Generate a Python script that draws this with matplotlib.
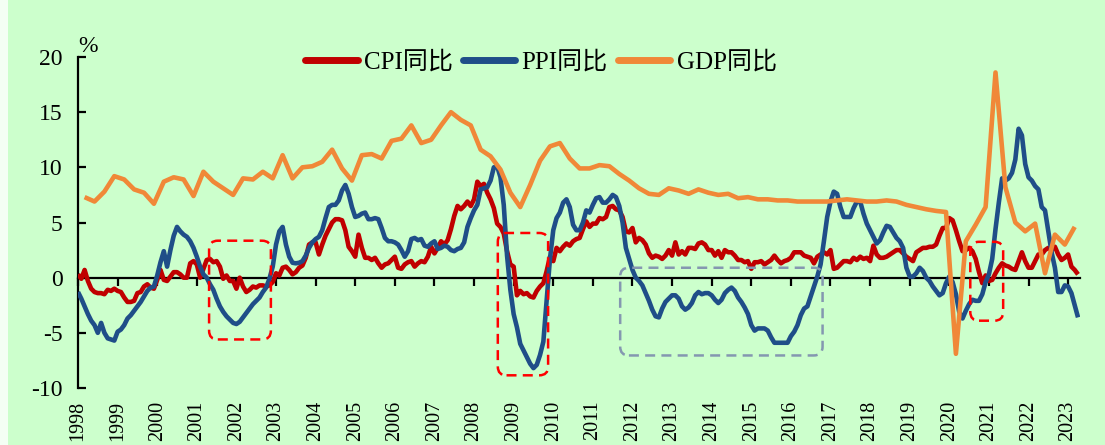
import numpy as np
import matplotlib
matplotlib.use("Agg")
import matplotlib.pyplot as plt
from matplotlib.patches import FancyBboxPatch, Rectangle

# ---------------- data ----------------
years = list(range(1998, 2024))
year_labels = [str(y) for y in years]

# CPI YoY, monthly from 1998-01 to 2023-04
cpi = [
    0.3, -0.1, 0.7, -0.3, -1.0, -1.3, -1.4, -1.4, -1.5, -1.1, -1.2, -1.0,   # 1998
    -1.2, -1.3, -1.8, -2.2, -2.2, -2.1, -1.4, -1.3, -0.8, -0.6, -0.9, -1.0,  # 1999
    -0.2, 0.7, -0.2, -0.3, 0.1, 0.5, 0.5, 0.3, 0.0, 0.0, 1.3, 1.5,           # 2000
    1.2, 0.0, 0.8, 1.6, 1.7, 1.4, 1.5, 1.0, -0.1, 0.2, -0.3, -0.3,           # 2001
    -1.0, 0.0, -0.8, -1.3, -1.1, -0.8, -0.9, -0.7, -0.7, -0.8, -0.7, -0.4,   # 2002
    0.4, 0.2, 0.9, 1.0, 0.7, 0.3, 0.5, 0.9, 1.1, 1.8, 3.0, 3.2,              # 2003
    3.2, 2.1, 3.0, 3.8, 4.4, 5.0, 5.3, 5.3, 5.2, 4.3, 2.8, 2.4,              # 2004
    1.9, 3.9, 2.7, 1.8, 1.8, 1.6, 1.8, 1.3, 0.9, 1.2, 1.3, 1.6,              # 2005
    1.9, 0.9, 0.8, 1.2, 1.4, 1.5, 1.0, 1.3, 1.5, 1.4, 1.9, 2.8,              # 2006
    2.2, 2.7, 3.3, 3.0, 3.4, 4.4, 5.6, 6.5, 6.2, 6.5, 6.9, 6.5,              # 2007
    7.1, 8.7, 8.3, 8.5, 7.7, 7.1, 6.3, 4.9, 4.6, 4.0, 2.4, 1.2,              # 2008
    1.0, -1.6, -1.2, -1.5, -1.4, -1.7, -1.8, -1.2, -0.8, -0.5, 0.6, 1.9,     # 2009
    1.5, 2.7, 2.4, 2.8, 3.1, 2.9, 3.3, 3.5, 3.6, 4.4, 5.1, 4.6,              # 2010
    4.9, 4.9, 5.4, 5.3, 5.5, 6.4, 6.5, 6.2, 6.1, 5.5, 4.2, 4.1,              # 2011
    4.5, 3.2, 3.6, 3.4, 3.0, 2.2, 1.8, 2.0, 1.9, 1.7, 2.0, 2.5,              # 2012
    2.0, 3.2, 2.1, 2.4, 2.1, 2.7, 2.7, 2.6, 3.1, 3.2, 3.0, 2.5,              # 2013
    2.5, 2.0, 2.4, 1.8, 2.5, 2.3, 2.3, 2.0, 1.6, 1.6, 1.4, 1.5,              # 2014
    0.8, 1.4, 1.4, 1.5, 1.2, 1.4, 1.6, 2.0, 1.6, 1.3, 1.5, 1.6,              # 2015
    1.8, 2.3, 2.3, 2.3, 2.0, 1.9, 1.8, 1.3, 1.9, 2.1, 2.3, 2.1,              # 2016
    2.5, 0.8, 0.9, 1.2, 1.5, 1.5, 1.4, 1.8, 1.6, 1.9, 1.7, 1.8,              # 2017
    1.5, 2.9, 2.1, 1.8, 1.8, 1.9, 2.1, 2.3, 2.5, 2.5, 2.2, 1.9,              # 2018
    1.7, 1.5, 2.3, 2.5, 2.7, 2.7, 2.8, 2.8, 3.0, 3.8, 4.5, 4.5,              # 2019
    5.4, 5.2, 4.3, 3.3, 2.4, 2.5, 2.7, 2.4, 1.7, 0.5, -0.5, 0.2,             # 2020
    -0.3, -0.2, 0.4, 0.9, 1.3, 1.1, 1.0, 0.8, 0.7, 1.5, 2.3, 1.5,            # 2021
    0.9, 0.9, 1.5, 2.1, 2.1, 2.5, 2.7, 2.5, 2.8, 2.1, 1.6, 1.8,              # 2022
    2.1, 1.0, 0.7, 0.3,                                                      # 2023
]

# PPI YoY, monthly from 1998-01 to 2023-04
ppi = [
    -1.3, -1.9, -2.6, -3.3, -3.9, -4.3, -5.0, -4.1, -5.0, -5.5, -5.6, -5.7,  # 1998
    -4.9, -4.7, -4.3, -3.7, -3.4, -3.0, -2.6, -2.2, -1.7, -1.2, -0.9, -0.8,  # 1999
    0.2, 1.4, 2.4, 1.0, 2.5, 3.8, 4.6, 4.2, 3.9, 3.7, 3.3, 2.7,              # 2000
    1.9, 1.0, 0.3, 0.0, -0.6, -1.1, -1.9, -2.6, -3.1, -3.5, -3.8, -4.1,      # 2001
    -4.2, -4.0, -3.6, -3.2, -2.8, -2.4, -2.1, -1.8, -1.3, -0.9, -0.1, 1.0,   # 2002
    3.0, 4.2, 4.6, 3.0, 1.9, 1.35, 1.3, 1.35, 1.5, 2.0, 2.7, 3.2,            # 2003
    3.5, 3.7, 4.3, 5.4, 6.4, 6.6, 6.6, 7.0, 7.9, 8.4, 7.6, 6.4,              # 2004
    5.5, 5.6, 5.8, 5.9, 5.3, 5.3, 5.4, 5.3, 4.5, 3.6, 3.3, 3.3,              # 2005
    3.2, 3.0, 2.5, 1.9, 2.4, 3.5, 3.6, 3.4, 3.5, 2.9, 2.8, 3.1,              # 2006
    3.3, 2.6, 2.7, 2.9, 2.8, 2.5, 2.4, 2.6, 2.7, 3.2, 4.6, 5.4,              # 2007
    6.1, 6.6, 8.0, 8.1, 8.2, 8.8, 10.0, 10.1, 9.1, 6.6, 2.0, -1.1,           # 2008
    -3.3, -4.5, -6.0, -6.6, -7.2, -7.8, -8.2, -7.9, -7.0, -5.8, -2.1, 1.7,   # 2009
    4.3, 5.4, 5.9, 6.8, 7.1, 6.4, 4.8, 4.3, 4.3, 5.0, 6.1, 5.9,              # 2010
    6.6, 7.2, 7.3, 6.8, 6.8, 7.1, 7.5, 7.3, 6.5, 5.0, 2.7, 1.7,              # 2011
    0.7, 0.0, -0.3, -0.7, -1.4, -2.1, -2.9, -3.5, -3.6, -2.8, -2.2, -1.9,    # 2012
    -1.6, -1.6, -1.9, -2.6, -2.9, -2.7, -2.3, -1.6, -1.3, -1.5, -1.4, -1.4,  # 2013
    -1.6, -2.0, -2.3, -2.0, -1.4, -1.1, -0.9, -1.2, -1.8, -2.2, -2.7, -3.3,  # 2014
    -4.3, -4.8, -4.6, -4.6, -4.6, -4.8, -5.4, -5.9, -5.9, -5.9, -5.9, -5.9,  # 2015
    -5.3, -4.9, -4.3, -3.4, -2.8, -2.6, -1.7, -0.8, 0.1, 1.2, 3.3, 5.5,      # 2016
    6.9, 7.8, 7.6, 6.4, 5.5, 5.5, 5.5, 6.3, 6.9, 6.9, 5.8, 4.9,              # 2017
    4.3, 3.7, 3.1, 3.4, 4.1, 4.7, 4.6, 4.1, 3.6, 3.3, 2.7, 0.9,              # 2018
    0.1, 0.1, 0.4, 0.9, 0.6, 0.0, -0.3, -0.8, -1.2, -1.6, -1.4, -0.5,        # 2019
    0.1, -0.4, -1.5, -3.1, -3.7, -3.0, -2.4, -2.0, -2.1, -2.1, -1.5, -0.4,   # 2020
    0.3, 1.7, 4.4, 6.8, 9.0, 8.8, 9.0, 9.5, 10.7, 13.5, 12.9, 10.3,          # 2021
    9.1, 8.8, 8.3, 8.0, 6.4, 6.1, 4.2, 2.3, 0.9, -1.3, -1.3, -0.7,           # 2022
    -0.8, -1.4, -2.5, -3.6,                                                  # 2023
]

# GDP YoY, quarterly from 1998Q1 to 2023Q1
gdp = [
    7.3, 6.9, 7.8, 9.2,      # 1998
    8.9, 8.0, 7.7, 6.7,      # 1999
    8.7, 9.1, 8.9, 7.4,      # 2000
    9.6, 8.7, 8.1, 7.5,      # 2001
    9.0, 8.9, 9.6, 9.0,      # 2002
    11.1, 9.0, 10.0, 10.1,   # 2003
    10.5, 11.6, 9.9, 8.8,    # 2004
    11.1, 11.2, 10.8, 12.4,  # 2005
    12.6, 13.8, 12.2, 12.5,  # 2006
    13.8, 15.0, 14.3, 13.8,  # 2007
    11.6, 11.0, 9.8, 7.7,    # 2008
    6.4, 8.4, 10.6, 11.9,    # 2009
    12.2, 10.8, 9.9, 9.9,    # 2010
    10.2, 10.1, 9.4, 8.8,    # 2011
    8.1, 7.6, 7.5, 8.1,      # 2012
    7.9, 7.6, 8.0, 7.7,      # 2013
    7.5, 7.6, 7.2, 7.3,      # 2014
    7.1, 7.1, 7.0, 7.0,      # 2015
    6.9, 6.9, 6.9, 6.9,      # 2016
    7.0, 7.1, 7.0, 6.9,      # 2017
    6.9, 7.0, 6.9, 6.6,      # 2018
    6.4, 6.2, 6.05, 5.95,    # 2019
    -6.9, 3.3, 4.8, 6.4,     # 2020
    18.6, 8.2, 5.0, 4.2,     # 2021
    4.9, 0.4, 3.9, 3.0,      # 2022
    4.6,                     # 2023
]

series_names = ["CPI同比", "PPI同比", "GDP同比"]

# highlighted periods (annotation boxes): (x0, x1, y0, y1, colour)
boxes = [
    (2001.31, 2002.87, -5.6, 3.35, "#FF0000"),
    (2008.60, 2009.87, -8.85, 4.05, "#FF0000"),
    (2011.69, 2016.80, -7.05, 0.9, "#8497B0"),
    (2020.53, 2021.36, -3.9, 3.25, "#FF0000"),
]

# ---------------- style ----------------
BG = "#CCFFCC"
C_CPI = "#C00000"
C_PPI = "#1F4E88"
C_GDP = "#F08838"
SERIF = ["Liberation Serif", "Noto Sans CJK SC", "DejaVu Sans"]
plt.rcParams["font.family"] = SERIF

W, H = 1105, 445
fig = plt.figure(figsize=(W / 100, H / 100), dpi=100, facecolor=BG)
fig.patches.append(Rectangle((0, 0), 8 / W, 1, transform=fig.transFigure,
                             facecolor="#F4FFF4", edgecolor="none", zorder=0))

ax_l, ax_r = 78 / W, 1080 / W
ax_b, ax_t = (H - 388) / H, (H - 57) / H
ax = fig.add_axes([ax_l, ax_b, ax_r - ax_l, ax_t - ax_b])
ax.set_facecolor(BG)

x_m = 1998 + np.arange(len(cpi)) / 12.0
x_q = 1998 + (3 * np.arange(len(gdp)) + 2) / 12.0

lw = 3.3
ax.plot(x_m, cpi, color=C_CPI, lw=lw, label=series_names[0], zorder=3,
        solid_joinstyle="round", solid_capstyle="butt")
ax.plot(x_m, ppi, color=C_PPI, lw=lw, label=series_names[1], zorder=4,
        solid_joinstyle="round", solid_capstyle="butt")
ax.plot(x_q, gdp, color=C_GDP, lw=lw, label=series_names[2], zorder=5,
        solid_joinstyle="round", solid_capstyle="butt")

# annotation boxes (rounded, dashed)
px_per_x = (1080 - 78) / (2023.3 - 1998)
px_per_y = (388 - 57) / 30.0
aspect = px_per_x / px_per_y
for (x0, x1, y0, y1, col) in boxes:
    p = FancyBboxPatch((x0, y0), x1 - x0, y1 - y0,
                       boxstyle="round,pad=0,rounding_size=0.22",
                       mutation_aspect=aspect,
                       facecolor="none", edgecolor=col, lw=1.8,
                       linestyle=(0, (4, 2.5)), zorder=6)
    ax.add_patch(p)

ax.set_xlim(1998, 2023.3)
ax.set_ylim(-10, 20)

# y axis
ax.set_yticks([-10, -5, 0, 5, 10, 15, 20])
ax.set_yticklabels(["-10", "-5", "0", "5", "10", "15", "20"])
ax.tick_params(axis="y", direction="in", length=6, width=1.6, pad=11,
               labelsize=17)

# x axis: zero line with ticks, labels at the bottom
for s in ["top", "right"]:
    ax.spines[s].set_visible(False)
ax.spines["left"].set_linewidth(1.6)
ax.spines["bottom"].set_position(("data", 0))
ax.spines["bottom"].set_linewidth(1.6)
ax.spines["bottom"].set_zorder(2)
ax.set_xticks(years)
ax.tick_params(axis="x", direction="out", length=6, width=1.6,
               labelbottom=False)

sec = ax.secondary_xaxis("bottom")
sec.set_xticks(years)
sec.set_xticklabels(year_labels, rotation=90, fontsize=14.5)
sec.tick_params(length=0, pad=9)
sec.spines["bottom"].set_visible(False)

ax.text(0.0, 1.0, "%", transform=ax.transAxes, ha="left", va="bottom",
        fontsize=17)

leg = ax.legend(loc="center", bbox_to_anchor=(0.462, 0.985), ncol=3,
                frameon=False, fontsize=18, handlelength=2.1,
                handletextpad=0.25, columnspacing=0.4,
                prop={"family": SERIF, "size": 18})
for h in leg.get_lines():
    h.set_linewidth(5)
    h.set_solid_capstyle("round")

fig.savefig("out.png", dpi=100, facecolor=BG)
